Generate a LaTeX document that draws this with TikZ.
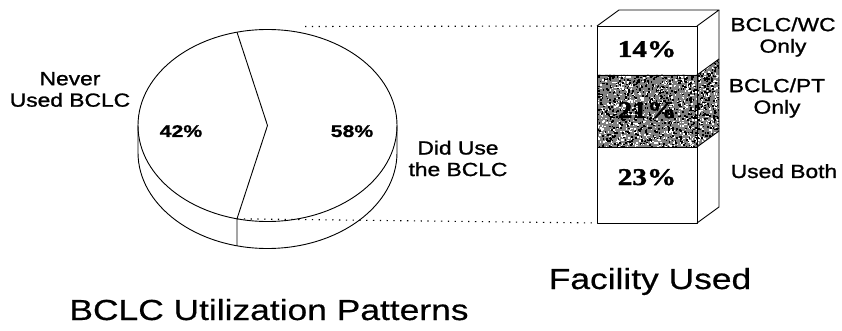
\documentclass[tikz,border=0pt]{standalone}
\usepackage{fontspec}
\newfontfamily\lblfont[FakeStretch=1.2,FakeBold=1.2]{Liberation Sans}
\newfontfamily\pctfont[FakeStretch=1.25,FakeBold=0.8]{Liberation Sans}
\newfontfamily\numfont[FakeStretch=1.22,FakeBold=1.5]{Liberation Serif}
\newfontfamily\ttlfont[FakeStretch=1.22,FakeBold=0.5]{Liberation Sans}
\tikzset{
  lbl/.style={font=\lblfont\fontsize{19}{21.5}\selectfont, inner sep=0pt, align=center},
  pct/.style={font=\pctfont\bfseries\fontsize{17}{17}\selectfont, inner sep=0pt, anchor=base},
  num/.style={font=\numfont\bfseries\fontsize{24}{24}\selectfont, inner sep=0pt, anchor=base},
  ttl/.style={font=\ttlfont\fontsize{29}{29}\selectfont, inner sep=0pt, anchor=base},
  guide/.style={line width=1.1pt, dash pattern=on 1.3pt off 5.5pt},
  outline/.style={line width=0.9pt, line join=round},
}
\begin{document}
\begin{tikzpicture}[x=1pt,y=-1pt]
\useasboundingbox (0,0) rectangle (842,331);

% ---- pie chart (top face centre, side depth 27) ----
\coordinate (c)  at (267.5,125.5);
\coordinate (st) at (237,32.2);
\coordinate (sb) at (237,218.8);
\coordinate (sd) at (237,245.8);
\draw[outline] (138,125.5) -- (138,152.5)
   arc[start angle=180, end angle=360, x radius=129.5pt, y radius=96pt] -- (397,125.5);
\draw[outline] (c) ellipse[x radius=129.5pt, y radius=96pt];
\draw[outline] (st) -- (c) -- (sb) -- (sd);

\node[pct] (p42) at (181,137) {42\%};
\node[pct] (p58) at (352,137) {58\%};
\node[lbl] (never) at (70,89.5) {Never\\Used BCLC};
\node[lbl] (did) at (458,158.5) {Did Use\\the BCLC};

% ---- stacked block ----
\coordinate (ftl) at (597,26);
\coordinate (fbl) at (597,223);
\coordinate (gs)  at (305,26.5);

\begin{scope}
  \clip (597,75) -- (697,75) -- (719,59) -- (719,131) -- (697,147) -- (597,147) -- cycle;
  \fill[black!50] (597,55) rectangle (720,148);
  \pgfmathsetseed{17}
  \foreach \k in {1,...,1000}{
    \pgfmathsetmacro\px{597+123*rnd}
    \pgfmathsetmacro\py{58+90*rnd}
    \fill[white] (\px,\py) rectangle ++(1.5,1.5);
  }
  \foreach \k in {1,...,1100}{
    \pgfmathsetmacro\px{597+123*rnd}
    \pgfmathsetmacro\py{58+90*rnd}
    \fill[black] (\px,\py) rectangle ++(1.6,1.6);
  }
\end{scope}

\draw[outline] (ftl) rectangle (697,223);
\draw[outline] (597,75) -- (697,75);
\draw[outline] (597,147) -- (697,147);
\draw[outline] (ftl) -- (619,10) -- (719,10) -- (697,26);
\draw[outline] (719,10) -- (719,207) -- (697,223);
\draw[outline] (697,75) -- (719,59);
\draw[outline] (697,147) -- (719,131);

\node[num] (n14) at (647,57) {14\%};
\node[num] (n21) at (647,118) {21\%};
\node[num] (n23) at (647,185) {23\%};

\node[lbl] (wc) at (783,37) {BCLC/WC\\Only};
\node[lbl] (pt) at (777,98) {BCLC/PT\\Only};
\node[lbl, anchor=base] (both) at (784,178) {Used Both};

% ---- dotted guides from pie slice to block ----
\draw[guide] (gs) -- (ftl);
\draw[guide] (sb) -- (fbl);

% ---- titles ----
\node[ttl] (fac) at (650,289) {Facility Used};
\node[ttl] (util) at (269,320) {BCLC Utilization Patterns};
\end{tikzpicture}
\end{document}
